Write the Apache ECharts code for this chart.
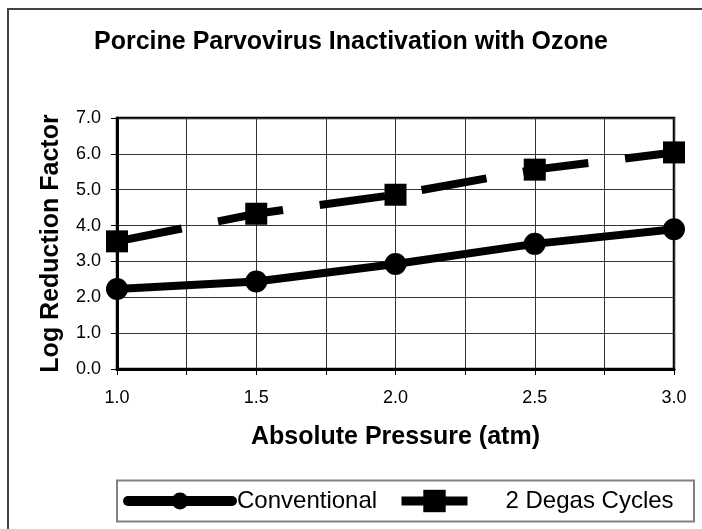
<!DOCTYPE html>
<html>
<head>
<meta charset="utf-8">
<script src="https://cdn.jsdelivr.net/npm/echarts@6/dist/echarts.min.js"></script>
<style>html,body{margin:0;padding:0;background:#fff}#c{width:702px;height:529px}</style>
</head>
<body>
<div id="c"></div>
<script>
var pressures = [1.0, 1.5, 2.0, 2.5, 3.0];
var conventional = [2.23, 2.44, 2.93, 3.49, 3.90];
var degas = [3.56, 4.33, 4.86, 5.56, 6.04];
var seriesNames = ['Conventional', '2 Degas Cycles'];
var titleText = 'Porcine Parvovirus Inactivation with Ozone';
var xName = 'Absolute Pressure (atm)';
var yName = 'Log Reduction Factor';

function pairs(xs, ys) { return xs.map(function (x, i) { return [x, ys[i]]; }); }

var FONT = '"Liberation Sans", Arial, sans-serif';
var chart = echarts.init(document.getElementById('c'), null, {renderer: 'canvas'});
chart.setOption({
  animation: false,
  backgroundColor: '#fff',
  title: {
    text: titleText, left: 'center', top: 30, padding: 0,
    textStyle: {fontFamily: FONT, fontWeight: 'bold', fontSize: 25, color: '#000', lineHeight: 25}
  },
  graphic: [
    {type: 'rect', shape: {x: 8, y: 9, width: 720, height: 560}, style: {fill: 'none', stroke: '#444', lineWidth: 2}, silent: true, z: -1},
    {type: 'rect', shape: {x: 117, y: 480.5, width: 577, height: 41}, style: {fill: 'none', stroke: '#808080', lineWidth: 2}, silent: true}
  ],
  legend: [
    {
      data: [seriesNames[0]], left: 123, top: 487, padding: 0,
      itemWidth: 104, itemHeight: 21,
      lineStyle: {width: 10, cap: 'round', type: 'solid'},
      textStyle: {fontFamily: FONT, fontSize: 24, color: '#000', lineHeight: 28}
    },
    {
      data: [seriesNames[1]], left: 397, top: 487, padding: 0,
      itemWidth: 66, itemHeight: 28,
      lineStyle: {width: 9, type: 'solid', cap: 'butt'},
      textStyle: {fontFamily: FONT, fontSize: 24, color: '#000', lineHeight: 28, padding: [0, 0, 0, 33]}
    }
  ],
  grid: {
    left: 117, right: 28, top: 118, bottom: 160,
    show: true, borderColor: '#000', borderWidth: 2.5, backgroundColor: 'transparent'
  },
  xAxis: {
    type: 'value', min: 1, max: 3, interval: 0.25,
    name: xName, nameLocation: 'middle', nameGap: 56,
    nameTextStyle: {fontFamily: FONT, fontWeight: 'bold', fontSize: 25, color: '#000'},
    axisLine: {show: true, onZero: false, lineStyle: {color: '#000', width: 3}},
    axisTick: {show: true, inside: false, length: 6, lineStyle: {color: '#000', width: 1}},
    axisLabel: {
      margin: 20, fontFamily: FONT, fontSize: 18, color: '#000',
      formatter: function (v) { return (Math.abs(v * 2 - Math.round(v * 2)) < 1e-6) ? v.toFixed(1) : ''; }
    },
    splitLine: {show: true, lineStyle: {color: '#333', width: 1}}
  },
  yAxis: {
    type: 'value', min: 0, max: 7, interval: 1,
    name: yName, nameLocation: 'middle', nameGap: 53, nameRotate: 90,
    nameTextStyle: {fontFamily: FONT, fontWeight: 'bold', fontSize: 25, color: '#000'},
    axisLine: {show: true, lineStyle: {color: '#000', width: 3}},
    axisTick: {show: true, inside: false, length: 6, lineStyle: {color: '#000', width: 1}},
    axisLabel: {margin: 16, fontFamily: FONT, fontSize: 18, color: '#000', formatter: function (v) { return v.toFixed(1); }},
    splitLine: {show: true, lineStyle: {color: '#333', width: 1}}
  },
  series: [
    {
      name: seriesNames[0], type: 'line', data: pairs(pressures, conventional),
      symbol: 'circle', symbolSize: 22,
      lineStyle: {color: '#000', width: 8},
      itemStyle: {color: '#000'}, z: 3
    },
    {
      name: seriesNames[1], type: 'line', data: pairs(pressures, degas),
      symbol: 'rect', symbolSize: 22,
      lineStyle: {color: '#000', width: 8, type: [66, 37], cap: 'butt'},
      itemStyle: {color: '#000'}, z: 3
    }
  ]
});
</script>
</body>
</html>
